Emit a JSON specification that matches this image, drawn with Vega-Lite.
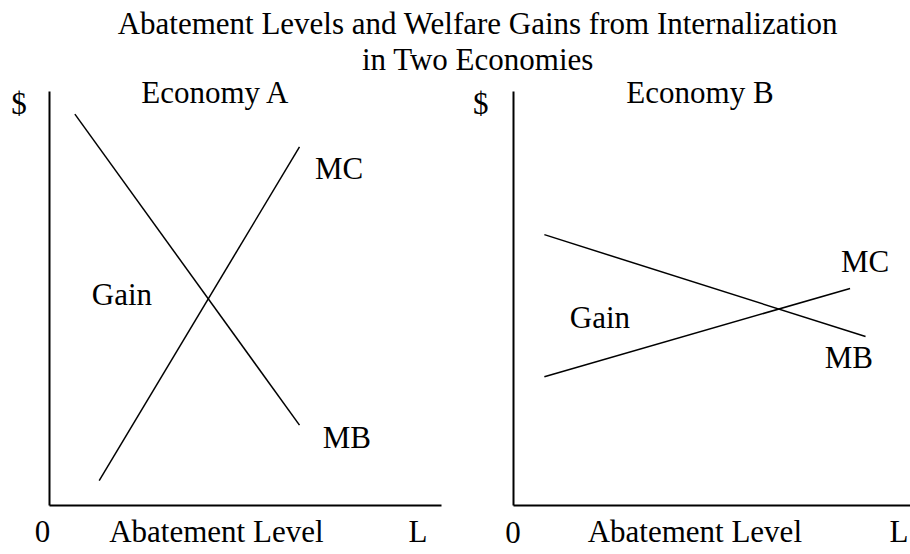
{
  "$schema": "https://vega.github.io/schema/vega-lite/v6.json",
  "background": "white",
  "autosize": {"type": "pad"},
  "padding": {"left": 11, "top": 9, "right": 0, "bottom": 0},
  "title": {
    "text": ["Abatement Levels and Welfare Gains from Internalization", "in Two Economies"],
    "font": "Liberation Serif",
    "fontSize": 31,
    "fontWeight": "normal",
    "color": "black",
    "lineHeight": 36,
    "anchor": "middle",
    "frame": "bounds",
    "dx": 17,
    "offset": 1
  },
  "datasets": {
    "curves": [
      {"panel": "A", "curve": "MB", "x": 6.6, "y": 94.4},
      {"panel": "A", "curve": "MB", "x": 63.9, "y": 19.3},
      {"panel": "A", "curve": "MC", "x": 12.8, "y": 5.9},
      {"panel": "A", "curve": "MC", "x": 63.9, "y": 86.5},
      {"panel": "B", "curve": "MB", "x": 7.9, "y": 65.3},
      {"panel": "B", "curve": "MB", "x": 88.8, "y": 40.7},
      {"panel": "B", "curve": "MC", "x": 7.9, "y": 31.0},
      {"panel": "B", "curve": "MC", "x": 84.9, "y": 52.3}
    ],
    "labels": [
      {"panel": "A", "label": "MC", "x": 74.0, "y": 78.7},
      {"panel": "A", "label": "MB", "x": 76.0, "y": 13.8},
      {"panel": "A", "label": "Gain", "x": 18.6, "y": 48.3},
      {"panel": "A", "label": "Economy A", "x": 42.3, "y": 97.1},
      {"panel": "A", "label": "$", "x": -7.65, "y": 94.4},
      {"panel": "A", "label": "0", "x": -1.66, "y": -8.9},
      {"panel": "A", "label": "Abatement Level", "x": 42.7, "y": -8.9},
      {"panel": "A", "label": "L", "x": 94.1, "y": -8.9},
      {"panel": "B", "label": "MC", "x": 88.7, "y": 56.2},
      {"panel": "B", "label": "MB", "x": 84.6, "y": 33.0},
      {"panel": "B", "label": "Gain", "x": 21.9, "y": 42.7},
      {"panel": "B", "label": "Economy B", "x": 47.1, "y": 97.1},
      {"panel": "B", "label": "$", "x": -8.1, "y": 94.4},
      {"panel": "B", "label": "0", "x": 0, "y": -9.2},
      {"panel": "B", "label": "Abatement Level", "x": 45.8, "y": -8.9},
      {"panel": "B", "label": "L", "x": 97.2, "y": -8.9}
    ]
  },
  "spacing": 72,
  "bounds": "flush",
  "config": {
    "view": {"stroke": null},
    "font": "Liberation Serif",
    "axis": {
      "domain": true,
      "domainColor": "black",
      "domainWidth": 2,
      "ticks": false,
      "labels": false,
      "grid": false,
      "title": null
    }
  },
  "hconcat": [
    {
      "width": 392,
      "height": 414,
      "encoding": {
        "x": {"field": "x", "type": "quantitative", "scale": {"domain": [0, 100], "nice": false, "zero": false}},
        "y": {"field": "y", "type": "quantitative", "scale": {"domain": [0, 100], "nice": false, "zero": false}}
      },
      "layer": [
        {
          "data": {"name": "curves"},
          "transform": [{"filter": "datum.panel === 'A'"}],
          "mark": {"type": "line", "color": "black", "strokeWidth": 1.5},
          "encoding": {"detail": {"field": "curve"}}
        },
        {
          "data": {"name": "labels"},
          "transform": [{"filter": "datum.panel === 'A'"}],
          "mark": {"type": "text", "align": "center", "baseline": "alphabetic", "fontSize": 31, "font": "Liberation Serif", "color": "black"},
          "encoding": {"text": {"field": "label"}}
        }
      ]
    },
    {
      "width": 397,
      "height": 414,
      "encoding": {
        "x": {"field": "x", "type": "quantitative", "scale": {"domain": [0, 100], "nice": false, "zero": false}},
        "y": {"field": "y", "type": "quantitative", "scale": {"domain": [0, 100], "nice": false, "zero": false}}
      },
      "layer": [
        {
          "data": {"name": "curves"},
          "transform": [{"filter": "datum.panel === 'B'"}],
          "mark": {"type": "line", "color": "black", "strokeWidth": 1.5},
          "encoding": {"detail": {"field": "curve"}}
        },
        {
          "data": {"name": "labels"},
          "transform": [{"filter": "datum.panel === 'B'"}],
          "mark": {"type": "text", "align": "center", "baseline": "alphabetic", "fontSize": 31, "font": "Liberation Serif", "color": "black"},
          "encoding": {"text": {"field": "label"}}
        }
      ]
    }
  ]
}
